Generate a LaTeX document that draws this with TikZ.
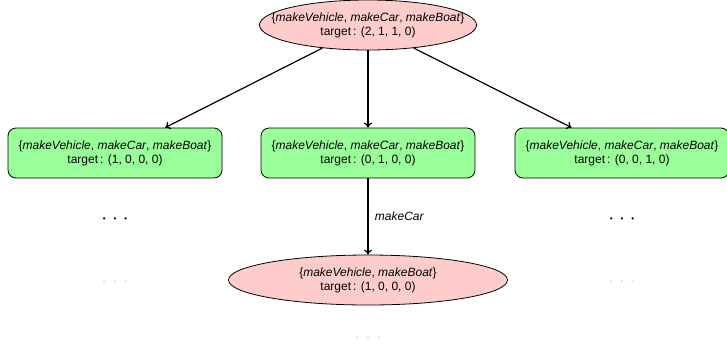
\documentclass[tikz,border=0pt]{standalone}
\usepackage{fontspec}
\setmainfont{Liberation Sans}
\usetikzlibrary{shapes.geometric,positioning,arrows.meta}
\definecolor{goalpink}{HTML}{FFCCCC}
\definecolor{stategreen}{HTML}{99FF99}
\newcommand{\spreaddots}{\textbullet\hspace{8pt}\textbullet\hspace{8pt}\textbullet}
\begin{document}
\begin{tikzpicture}[
  x=1pt, y=1pt,
  node distance=128pt,
  >={To[length=5pt,width=8pt]},
  goal/.style={draw, line width=0.8pt, ellipse, fill=goalpink, minimum width=217pt, minimum height=50pt, inner sep=0pt, align=center, font=\large},
  state/.style={draw, line width=0.8pt, rounded corners=8pt, fill=stategreen, minimum width=214pt, minimum height=50pt, align=center, font=\large},
  more/.style={font=\footnotesize},
  faded/.style={font=\footnotesize, text=gray!25},
  lbl/.style={font=\large\itshape},
  link/.style={->, line width=1.2pt}
]
\useasboundingbox (0,0) rectangle (727,-346);

\node[goal, inner xsep=-22pt] (root) at (368,-25) {\{\textit{makeVehicle}, \textit{makeCar}, \textit{makeBoat}\}\\target\,: (2, 1, 1, 0)};
\node[state] (mid)   [below of=root] {\{\textit{makeVehicle}, \textit{makeCar}, \textit{makeBoat}\}\\target\,: (0, 1, 0, 0)};
\node[state] (left)  [left of=mid, node distance=253pt] {\{\textit{makeVehicle}, \textit{makeCar}, \textit{makeBoat}\}\\target\,: (1, 0, 0, 0)};
\node[state] (right) [right of=mid, node distance=254pt] {\{\textit{makeVehicle}, \textit{makeCar}, \textit{makeBoat}\}\\target\,: (0, 0, 1, 0)};
\node[goal, minimum width=279pt] (next) [below of=mid, node distance=127pt] {\{\textit{makeVehicle}, \textit{makeBoat}\}\\target\,: (1, 0, 0, 0)};

\node[more]  (ldots)  [below of=left, node distance=67pt] {\spreaddots};
\node[more]  (rdots)  [below of=right, node distance=67pt] {\spreaddots};
\node[faded] (lfade)  [below of=ldots, node distance=63pt] {\spreaddots};
\node[faded] (rfade)  [below of=rdots, node distance=63pt] {\spreaddots};
\node[faded] (nfade)  [below of=next, node distance=59pt] {\spreaddots};

\draw[link] (root) -- (left);
\draw[link] (root) -- (mid);
\draw[link] (root) -- (right);
\draw[link] (mid) -- node[lbl, right=3pt]{makeCar} (next);
\end{tikzpicture}
\end{document}
